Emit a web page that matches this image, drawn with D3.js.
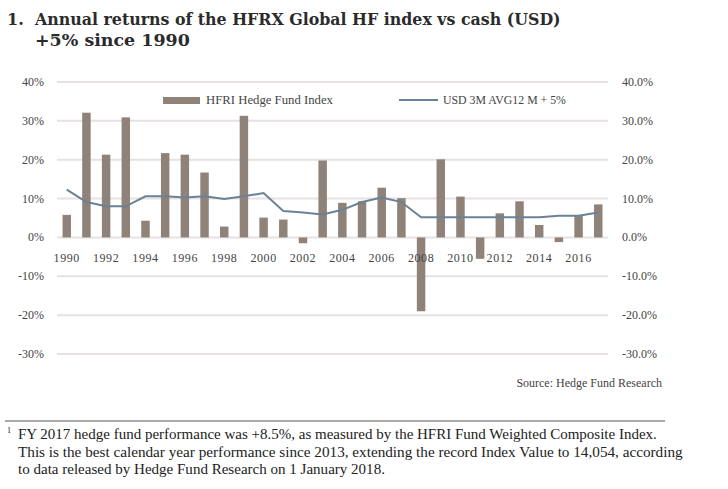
<!DOCTYPE html>
<html>
<head>
<meta charset="utf-8">
<script src="https://cdn.jsdelivr.net/npm/d3@7"></script>
<style>
  body { margin: 0; background: #fff; }
  svg { display: block; }
  text { font-family: "Liberation Serif", "DejaVu Serif", serif; }
</style>
</head>
<body>
<svg id="chart" width="728" height="489"></svg>
<script>
const years = d3.range(1990, 2018);
const hfriReturns = [5.8, 32.1, 21.3, 30.9, 4.3, 21.7, 21.3, 16.7, 2.8, 31.3,
    5.1, 4.6, -1.5, 19.8, 8.9, 9.3, 12.8, 10.1, -19.0, 20.1,
    10.5, -5.5, 6.2, 9.3, 3.2, -1.2, 5.5, 8.5];
const cashPlus5 = [12.3, 9.1, 8.0, 8.0, 10.6, 10.6, 10.3, 10.6, 9.9, 10.6,
    11.4, 6.8, 6.4, 5.9, 7.1, 9.1, 10.3, 9.1, 5.2, 5.2,
    5.2, 5.2, 5.2, 5.2, 5.2, 5.6, 5.6, 6.4];
const yTicks = [40, 30, 20, 10, 0, -10, -20, -30];
const yearLabels = d3.range(1990, 2017, 2);

const titleLines = ['Annual returns of the HFRX Global HF index vs cash (USD)', '+5% since 1990'];
const footLines = [
    'FY 2017 hedge fund performance was +8.5%, as measured by the HFRI Fund Weighted Composite Index.',
    'This is the best calendar year performance since 2013, extending the record Index Value to 14,054, according',
    'to data released by Hedge Fund Research on 1 January 2018.'
];

const barColor = '#8f8278';
const lineColor = '#6a8296';
const gridColor = '#e7e1e1';
const textColor = '#444';

const svg = d3.select('#chart');

// fit a text element to a target width by adjusting font size
function fitWidth(sel, target) {
    const node = sel.node();
    const fs = parseFloat(sel.attr('font-size'));
    const w = node.getComputedTextLength();
    if (w > 0) sel.attr('font-size', (fs * target / w).toFixed(2));
}

const x = d3.scaleBand().domain(years).range([57, 608]).paddingInner(0.57).paddingOuter(0.28);
const y = d3.scaleLinear().domain([-30, 40]).range([354, 82]);

// Title
const titleFont = '"DejaVu Serif", serif';
svg.append('text').attr('x', 7).attr('y', 25).attr('font-size', 16).attr('font-weight', 'bold')
    .style('font-family', titleFont).attr('fill', '#2b2b2b').text('1.');
titleLines.forEach((t, i) => {
    const el = svg.append('text').attr('x', 35).attr('y', 25 + i * 21)
        .attr('font-size', 16).attr('font-weight', 'bold').style('font-family', titleFont)
        .attr('fill', '#2b2b2b').text(t);
    fitWidth(el, i === 0 ? 526 : 155);
});

// Gridlines
svg.append('g').selectAll('line').data(yTicks).join('line')
    .attr('x1', 57).attr('x2', 608)
    .attr('y1', d => y(d)).attr('y2', d => y(d))
    .attr('stroke', gridColor).attr('stroke-width', 2);

// Left axis labels
svg.append('g').selectAll('text').data(yTicks).join('text')
    .attr('x', 44).attr('y', d => y(d) + 4)
    .attr('text-anchor', 'end').attr('font-size', 12).attr('fill', textColor)
    .text(d => d + '%');

// Right axis labels
svg.append('g').selectAll('text').data(yTicks).join('text')
    .attr('x', 622).attr('y', d => y(d) + 4)
    .attr('font-size', 12).attr('fill', textColor)
    .text(d => d.toFixed(1) + '%');

// Bars
svg.append('g').selectAll('rect').data(years).join('rect')
    .attr('x', d => x(d))
    .attr('width', x.bandwidth())
    .attr('y', (d, i) => y(Math.max(0, hfriReturns[i])))
    .attr('height', (d, i) => Math.abs(y(hfriReturns[i]) - y(0)))
    .attr('fill', barColor);

// Year labels
svg.append('g').selectAll('text').data(yearLabels).join('text')
    .attr('x', d => x(d) + x.bandwidth() / 2).attr('y', 262)
    .attr('text-anchor', 'middle').attr('font-size', 12).attr('letter-spacing', 0.6)
    .attr('fill', textColor)
    .text(d => d);

// Cash + 5% line
const line = d3.line()
    .x((d, i) => x(years[i]) + x.bandwidth() / 2)
    .y(d => y(d));
svg.append('path').datum(cashPlus5)
    .attr('d', line)
    .attr('fill', 'none').attr('stroke', lineColor).attr('stroke-width', 2);

// Legend
svg.append('rect').attr('x', 163).attr('y', 97).attr('width', 37).attr('height', 7).attr('fill', barColor);
const lg1 = svg.append('text').attr('x', 206).attr('y', 104).attr('font-size', 12).attr('fill', textColor)
    .text('HFRI Hedge Fund Index');
fitWidth(lg1, 127);
svg.append('line').attr('x1', 399).attr('x2', 438).attr('y1', 100).attr('y2', 100)
    .attr('stroke', lineColor).attr('stroke-width', 2);
const lg2 = svg.append('text').attr('x', 443).attr('y', 104).attr('font-size', 12).attr('fill', textColor)
    .text('USD 3M AVG12 M + 5%');
fitWidth(lg2, 123);

// Source
svg.append('text').attr('x', 662).attr('y', 387).attr('text-anchor', 'end')
    .attr('font-size', 12).attr('fill', textColor).text('Source: Hedge Fund Research');

// Footnote
svg.append('line').attr('x1', 5).attr('x2', 665).attr('y1', 421).attr('y2', 421)
    .attr('stroke', '#555').attr('stroke-width', 1);
svg.append('text').attr('x', 7).attr('y', 433).attr('font-size', 8).attr('fill', '#222').text('1');
const footTargets = [639, 665, 367];
footLines.forEach((t, i) => {
    const el = svg.append('text').attr('x', 18).attr('y', 439 + i * 17.5)
        .attr('font-size', 14).attr('fill', '#222').text(t);
    fitWidth(el, footTargets[i]);
});
</script>
</body>
</html>
